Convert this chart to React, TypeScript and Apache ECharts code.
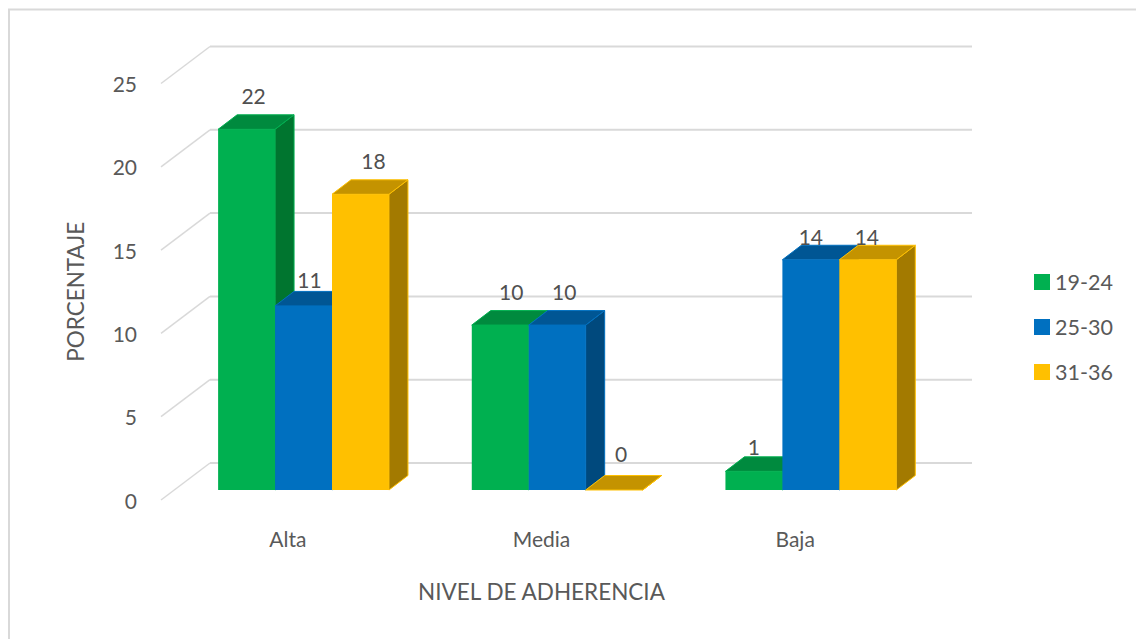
import React, { useEffect, useRef } from "react";
import * as echarts from "echarts";

const categories = ["Alta", "Media", "Baja"];
const ageGroups = ["19-24", "25-30", "31-36"];
const group1924 = [21.65, 9.9, 1.12];
const group2530 = [11.05, 9.9, 13.82];
const group3136 = [17.75, 0, 13.82];
const yTicks = [0, 5, 10, 15, 20, 25];

const faces = [
  { base: "#00B050", top: "#008A3E", side: "#00752F" },
  { base: "#0070C0", top: "#005694", side: "#00497D" },
  { base: "#FFC000", top: "#C49300", side: "#A37A00" },
];
// Manual data-label nudges, [dx, dy] from the top-back centre of each bar
const labelNudges = [
  [[7, -19], [6, -12], [13, -19]],
  [[11, -19], [7, -19], [7, -22]],
  [[0, -10], [0, -9], [-1, -9]],
];

const FONT = 'Lato, "Noto Sans", sans-serif';
const TEXT = "#595959";
const BAR_SHIFT_X = 15.7;
const BAR_SHIFT_Y = -10;
const DEPTH_X = 19;
const DEPTH_Y = 14.5;
const BAR_RATIO = 0.2245;
const WALL_X = 49;
const WALL_Y = -37;
const WALL_W = 762;

function barSeries(name: string, values: number[], idx: number) {
  const c = faces[idx];
  return {
    type: "custom",
    name,
    itemStyle: { color: c.base },
    encode: { x: 0, y: 1 },
    data: values.map((v, i) => [i, v]),
    z: 10 + idx,
    renderItem: (params: any, api: any) => {
      const cat = api.value(0);
      const val = api.value(1);
      const band = api.size([1, 0])[0];
      const w = band * BAR_RATIO;
      const top = api.coord([cat, val]);
      const bottom = api.coord([cat, 0]);
      const x0 = top[0] + BAR_SHIFT_X + (idx - 1.5) * w;
      const x1 = x0 + w;
      const yT = top[1] + BAR_SHIFT_Y;
      const yB = bottom[1] + BAR_SHIFT_Y;
      const nudge = labelNudges[cat][idx];
      const edge = { stroke: c.base, lineWidth: 1 };
      return {
        type: "group",
        children: [
          {
            type: "polygon",
            shape: { points: [[x1, yT], [x1 + DEPTH_X, yT - DEPTH_Y], [x1 + DEPTH_X, yB - DEPTH_Y], [x1, yB]] },
            style: { fill: c.side, ...edge },
          },
          {
            type: "polygon",
            shape: { points: [[x0, yT], [x0 + DEPTH_X, yT - DEPTH_Y], [x1 + DEPTH_X, yT - DEPTH_Y], [x1, yT]] },
            style: { fill: c.top, ...edge },
          },
          {
            type: "rect",
            shape: { x: x0, y: yT, width: w, height: yB - yT },
            style: { fill: c.base },
          },
          {
            type: "text",
            x: (x0 + x1) / 2 + nudge[0],
            y: yT - DEPTH_Y + nudge[1],
            style: {
              text: String(Math.round(val)),
              fill: "#505050",
              font: `21px ${FONT}`,
              align: "center",
              verticalAlign: "middle",
            },
          },
        ],
      };
    },
  };
}

export default function App() {
  const ref = useRef<HTMLDivElement>(null);
  useEffect(() => {
    const chart = echarts.init(ref.current!, undefined, { renderer: "svg" });
    chart.setOption({
      animation: false,
      backgroundColor: "#FFFFFF",
      textStyle: { fontFamily: FONT },
      grid: { left: 161, top: 83.5, width: 761, height: 416.5, containLabel: false },
      graphic: [
        {
          type: "polyline",
          shape: { points: [[9, 639], [9, 9.5], [1136, 9.5]] },
          style: { stroke: "#D9D9D9", lineWidth: 2, fill: "none" },
          silent: true,
        },
      ],
      legend: {
        show: true,
        data: ageGroups,
        orient: "vertical",
        left: 1029,
        top: 264,
        icon: "rect",
        itemWidth: 16,
        itemHeight: 16,
        itemGap: 19,
        selectedMode: false,
        textStyle: { color: TEXT, fontSize: 21.5, fontFamily: FONT, lineHeight: 26 },
      },
      xAxis: {
        type: "category",
        data: categories,
        axisLine: { show: false },
        axisTick: { show: false },
        splitLine: { show: false },
        axisLabel: { color: TEXT, fontSize: 21, fontFamily: FONT, margin: 28 },
        name: "NIVEL DE ADHERENCIA",
        nameLocation: "middle",
        nameGap: 80,
        nameTextStyle: { color: TEXT, fontSize: 22.5, fontFamily: FONT },
      },
      yAxis: {
        type: "value",
        min: 0,
        max: 25,
        interval: 5,
        axisLine: { show: false },
        axisTick: { show: false },
        splitLine: { show: false },
        axisLabel: { color: TEXT, fontSize: 21, fontFamily: FONT, margin: 24 },
        name: "PORCENTAJE",
        nameLocation: "middle",
        nameGap: 74,
        nameTextStyle: { color: TEXT, fontSize: 22.5, fontFamily: FONT },
      },
      series: [
        {
          type: "custom",
          name: "wall",
          data: yTicks.map((v) => [0, v]),
          encode: { x: 0, y: 1 },
          z: 1,
          silent: true,
          renderItem: (params: any, api: any) => {
            const y = api.coord([0, api.value(1)])[1];
            const x = params.coordSys.x;
            return {
              type: "group",
              children: [
                {
                  type: "line",
                  shape: { x1: x, y1: y, x2: x + WALL_X, y2: y + WALL_Y },
                  style: { stroke: "#D9D9D9", lineWidth: 1.5 },
                },
                {
                  type: "line",
                  shape: { x1: x + WALL_X, y1: y + WALL_Y, x2: x + WALL_X + WALL_W, y2: y + WALL_Y },
                  style: { stroke: "#D9D9D9", lineWidth: 2 },
                },
              ],
            };
          },
        },
        barSeries(ageGroups[0], group1924, 0),
        barSeries(ageGroups[1], group2530, 1),
        barSeries(ageGroups[2], group3136, 2),
      ],
    });
    return () => chart.dispose();
  }, []);
  return (
    <div
      ref={ref}
      style={{ position: "absolute", left: 0, top: 0, width: 1136, height: 639 }}
    />
  );
}
